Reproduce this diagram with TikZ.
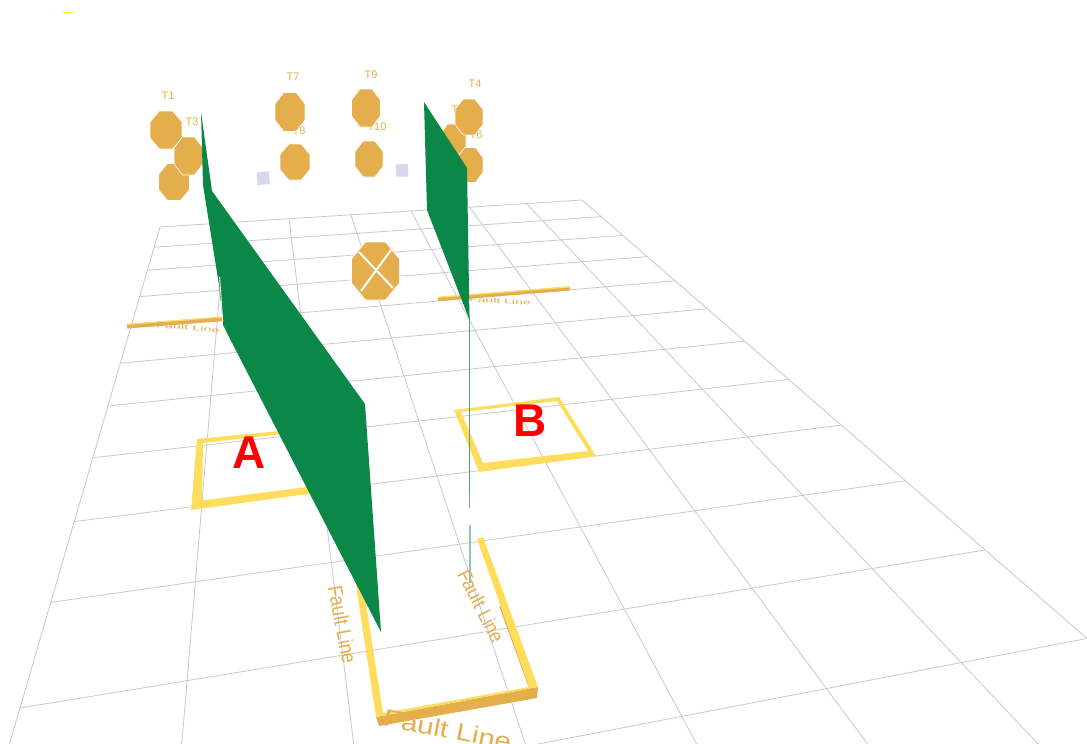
\documentclass[tikz,border=0pt]{standalone}
\usepackage{fontspec}
\setmainfont{Liberation Sans}
\definecolor{gridc}{HTML}{C9C9C9}
\definecolor{sheet}{HTML}{0B8748}
\definecolor{ambr}{HTML}{E3AE4B}
\definecolor{yell}{HTML}{FFDD5C}
\definecolor{lav}{HTML}{D6D8EE}
\tikzset{
  gridline/.style={draw=gridc,line width=.8pt},
  sheetface/.style={fill=sheet,draw=none},
  octface/.style={fill=ambr,draw=white,line width=.6pt,line join=round},
  tlabel/.style={text=ambr,font=\fontsize{11}{11}\selectfont,inner sep=0pt},
  faultlabel/.style={text=ambr,inner sep=0pt},
  redlabel/.style={text=red,font=\fontsize{46}{46}\selectfont\bfseries,inner sep=0pt,anchor=base},
  boxface/.style={fill=yell,draw=none,even odd rule}
}
\newcommand\octa[4]{\path[octface]
  ({#1+#3},{#2-.414*#4}) -- ({#1+.414*#3},{#2-#4}) -- ({#1-.414*#3},{#2-#4}) -- ({#1-#3},{#2-.414*#4})
  -- ({#1-#3},{#2+.414*#4}) -- ({#1-.414*#3},{#2+#4}) -- ({#1+.414*#3},{#2+#4}) -- ({#1+#3},{#2+.414*#4}) -- cycle;}
\newcommand\hx[2]{{(480.9*#1-152.1*#2+160)/(1+.1012*#1-.605*#2)}}
\newcommand\hy[2]{{(-6.76*#1+52.66*#2+227)/(1+.1012*#1-.605*#2)}}
\begin{document}
\begin{tikzpicture}[x=1pt,y=-1pt]
\useasboundingbox (0,0) rectangle (1087,744);
\clip (0,0) rectangle (1087,744);
\fill[white] (0,0) rectangle (1087,744);
% grid
\foreach \k in {0,...,7}{
  \pgfmathsetmacro\uu{\k/7}
  \pgfmathsetmacro\xa{(480.9*\uu+160)/(1+.1012*\uu)}
  \pgfmathsetmacro\ya{(-6.76*\uu+227)/(1+.1012*\uu)}
  \pgfmathsetmacro\xb{(480.9*\uu-182.52+160)/(1+.1012*\uu-.726)}
  \pgfmathsetmacro\yb{(-6.76*\uu+63.19+227)/(1+.1012*\uu-.726)}
  \draw[gridline] (\xa,\ya) -- (\xb,\yb);
}
\foreach \j in {0,...,11}{
  \pgfmathsetmacro\vv{\j/10}
  \pgfmathsetmacro\xa{(-152.1*\vv+160)/(1-.605*\vv)}
  \pgfmathsetmacro\ya{(52.66*\vv+227)/(1-.605*\vv)}
  \pgfmathsetmacro\xb{(480.9-152.1*\vv+160)/(1.1012-.605*\vv)}
  \pgfmathsetmacro\yb{(-6.76+52.66*\vv+227)/(1.1012-.605*\vv)}
  \draw[gridline] (\xa,\ya) -- (\xb,\yb);
}
% stray mark
\draw[yellow!90!white,line width=1pt] (63,12.6) -- (73,12);
% labels behind the octagons
\node[tlabel] (t1) at (168,96) {T1};
\node[tlabel] (t3) at (192,122) {T3};
\node[tlabel] (t7) at (293,77) {T7};
\node[tlabel] (t8) at (299,131) {T8};
\node[tlabel] (t9) at (371,75) {T9};
\node[tlabel] (t10) at (377,127) {T10};
\node[tlabel] (t4) at (475,84) {T4};
\node[tlabel] (t5) at (458,110) {T5};
\node[tlabel] (t6) at (476,135) {T6};
% octagons
\octa{166}{130}{16}{19}
\octa{174}{182}{15.5}{18.5}
\octa{188.5}{156}{14.5}{19}
\octa{290}{112}{15}{19.5}
\octa{295}{162}{15}{18}
\octa{366}{108}{14.5}{19}
\octa{369}{159}{14}{18}
\octa{453}{142}{13}{18}
\octa{470}{165}{13}{17.5}
\octa{469}{117}{14}{18}
% central crossed octagon
\octa{375.5}{271}{24}{29}
\draw[white,line width=2pt] (391,250) -- (361,291);
\draw[white,line width=2pt] (359,252) -- (393,288);
% lavender squares
\fill[lav] (256.5,172.5) -- (269,171.5) -- (270,184) -- (257.5,185) -- cycle;
\fill[lav] (395.5,164.5) -- (408,164) -- (408,176.5) -- (396,176.5) -- cycle;
% flat fault bars
\fill[ambr] (127,324) -- (225,316.5) -- (225,321) -- (127,328.5) -- cycle;
\fill[yell] (127,323.8) -- (225,316.3) -- (225,317.5) -- (127,325) -- cycle;
\fill[ambr] (438,297) -- (570,286.5) -- (570,290.5) -- (438,301) -- cycle;
\fill[yell] (438,296.8) -- (570,286.3) -- (570,287.5) -- (438,298) -- cycle;
\node[faultlabel,rotate=-5] (f1) at (188,327.5) {\fontsize{14.5}{14}\selectfont\scalebox{1}[.5]{Fault Line}};
\node[faultlabel,rotate=-3] (f2) at (500,301) {\fontsize{14}{14}\selectfont\scalebox{1}[.5]{Fault Line}};
% A and B boxes
\path[boxface] (197,439) -- (300,429) -- (322,492) -- (191,510) -- cycle
  (203,443) -- (300,432) -- (322,485) -- (202,500.5) -- cycle;
\path[boxface] (454,410) -- (559,397) -- (596,456) -- (479,472) -- cycle
  (461,412) -- (557,401) -- (588,451) -- (483,463) -- cycle;
% thin vertical sheet seen edge-on
\draw[color=sheet!75!white,line width=1pt] (469.5,316) -- (469.5,492);
\draw[color=black!35!sheet!55!white,line width=1pt] (469.5,492) -- (469.5,508);
\draw[color=sheet!45!white,line width=1.4pt] (470,525) -- (470,583);
% bottom box
\fill[ambr] (376,717) -- (379,726) -- (537,698) -- (538,687) -- cycle;
\draw[ambr,line width=1.6pt] (500,606) -- (529,686);
\path[boxface] (483,537) -- (538,687) -- (376,717) -- (355,578) -- (362,578) -- (383,713) -- (529,687) -- (477,539) -- cycle;
\node[faultlabel,rotate=-79] (f3) at (342.5,624.5) {\fontsize{18}{18}\selectfont\scalebox{1}[1.15]{Fault Line}};
\node[faultlabel,rotate=-63] (f4) at (481,606) {\fontsize{18}{18}\selectfont\scalebox{1}[1.1]{Fault Line}};
\node[faultlabel,rotate=-11,anchor=base] (f5) at (446,738) {\fontsize{24}{24}\selectfont\scalebox{1.23}[1]{Fault Line}};
% green sheets
\fill[sheet] (201,112) -- (212,191) -- (365,404) -- (381,632) -- (228,335) -- (223,325) -- (219,285) -- (203,185) -- cycle;
\draw[white,line width=.9pt] (219.6,277) -- (222.8,322);
\fill[sheet] (424,102) -- (467,168) -- (469.5,320) -- (427,210) -- cycle;
% letters
\node[redlabel] (a) at (249.5,468) {A};
\node[redlabel] (b) at (530,436) {B};
\end{tikzpicture}
\end{document}
